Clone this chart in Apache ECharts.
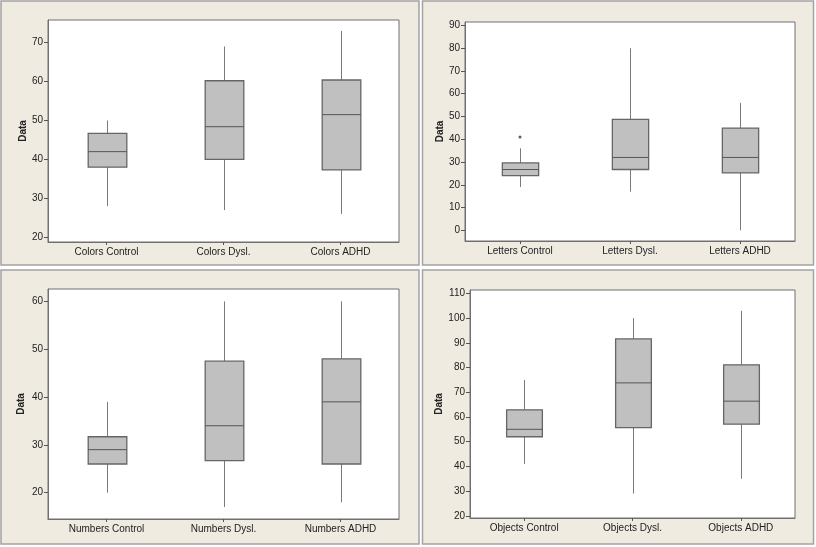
<!DOCTYPE html>
<html>
<head>
<meta charset="utf-8">
<script src="https://cdn.jsdelivr.net/npm/echarts@6/dist/echarts.min.js"></script>
<style>
html, body { margin: 0; padding: 0; background: #fff; }
#main { width: 816px; height: 547px; }
</style>
</head>
<body>
<div id="main"></div>
<script>
// box values per group: [low whisker, Q1, median, Q3, high whisker]
var colorsCats = ['Colors Control', 'Colors Dysl.', 'Colors ADHD'];
var colorsBox = [[28, 38, 42, 46.7, 50], [27, 40, 48.4, 60.2, 69], [26, 37.3, 51.5, 60.4, 73]];
var colorsTicks = [20, 30, 40, 50, 60, 70];

var lettersCats = ['Letters Control', 'Letters Dysl.', 'Letters ADHD'];
var lettersBox = [[19, 24, 26.7, 29.6, 36], [17, 26.7, 32, 48.7, 80], [0, 25.2, 32, 44.9, 56]];
var lettersOutliers = [[0, 41]];
var lettersTicks = [0, 10, 20, 30, 40, 50, 60, 70, 80, 90];

var numbersCats = ['Numbers Control', 'Numbers Dysl.', 'Numbers ADHD'];
var numbersBox = [[20, 26, 29, 31.7, 39], [17, 26.7, 34, 47.5, 60], [18, 26, 39, 48, 60]];
var numbersTicks = [20, 30, 40, 50, 60];

var objectsCats = ['Objects Control', 'Objects Dysl.', 'Objects ADHD'];
var objectsBox = [[41, 52, 55, 62.9, 75], [29, 55.7, 73.8, 91.6, 100], [35, 57.1, 66.4, 81.1, 103]];
var objectsTicks = [20, 30, 40, 50, 60, 70, 80, 90, 100, 110];

var textFont = 'Liberation Sans';
var textColor = '#222';

function renderBox(params, api) {
	var x = api.value(0);
	var lo = api.coord([x, api.value(1)]);
	var q1 = api.coord([x, api.value(2)]);
	var med = api.coord([x, api.value(3)]);
	var q3 = api.coord([x, api.value(4)]);
	var hi = api.coord([x, api.value(5)]);
	var half = api.size([1, 0])[0] * 0.33 / 2;
	var cx = Math.round(lo[0]) + 0.5;
	var wStyle = { stroke: '#7a7a7a', lineWidth: 1 };
	return {
		type: 'group',
		children: [
			{ type: 'line', shape: { x1: cx, y1: hi[1], x2: cx, y2: q3[1] }, style: wStyle },
			{ type: 'line', shape: { x1: cx, y1: q1[1], x2: cx, y2: lo[1] }, style: wStyle },
			{ type: 'rect', shape: { x: cx - half, y: q3[1], width: half * 2, height: q1[1] - q3[1] },
				style: { fill: '#c0c0c0', stroke: '#666', lineWidth: 1.3 } },
			{ type: 'line', shape: { x1: cx - half, y1: med[1], x2: cx + half, y2: med[1] },
				style: { stroke: '#555', lineWidth: 1 } }
		]
	};
}

function xAxisOf(idx, cats) {
	return {
		type: 'category',
		gridIndex: idx,
		data: cats,
		boundaryGap: true,
		axisLine: { show: true, onZero: false, lineStyle: { color: '#707070', width: 1 } },
		axisTick: { show: true, alignWithLabel: true, length: 3, lineStyle: { color: '#555' } },
		axisLabel: { show: true, interval: 0, margin: 5, color: textColor, fontFamily: textFont, fontSize: 10 },
		splitLine: { show: false }
	};
}

function yAxisOf(idx, min, max, ticks, gap) {
	return {
		type: 'value',
		gridIndex: idx,
		min: min,
		max: max,
		name: 'Data',
		nameLocation: 'middle',
		nameGap: gap,
		nameTextStyle: { color: textColor, fontFamily: textFont, fontSize: 10, fontWeight: 'bold' },
		axisLine: { show: true, lineStyle: { color: '#707070', width: 1 } },
		axisTick: { show: true, length: 4, customValues: ticks, lineStyle: { color: '#555' } },
		axisLabel: { show: true, margin: 5, customValues: ticks, color: textColor, fontFamily: textFont, fontSize: 10 },
		splitLine: { show: false }
	};
}

function boxSeries(idx, box) {
	return {
		type: 'custom',
		xAxisIndex: idx,
		yAxisIndex: idx,
		renderItem: renderBox,
		encode: { x: 0, y: [1, 2, 3, 4, 5] },
		data: box.map(function (b, i) { return [i].concat(b); }),
		z: 5
	};
}

function panel(x, y, w, h) {
	return {
		type: 'rect',
		z: -10,
		shape: { x: x, y: y, width: w, height: h },
		style: { fill: '#efebe1', stroke: '#a3a3a3', lineWidth: 1.5 }
	};
}

var chart = echarts.init(document.getElementById('main'));
var option = {
	animation: false,
	backgroundColor: '#fff',
	graphic: {
		elements: [
			panel(1, 1, 418, 264),
			panel(422.5, 1, 391, 264),
			panel(1, 270, 418, 274),
			panel(422.5, 270, 391, 274)
		]
	},
	grid: [
		{ left: 48, top: 20, width: 351, height: 222, show: true, backgroundColor: '#fff', borderColor: '#707070', borderWidth: 1 },
		{ left: 465, top: 22, width: 330, height: 219, show: true, backgroundColor: '#fff', borderColor: '#707070', borderWidth: 1 },
		{ left: 48, top: 289, width: 351, height: 230, show: true, backgroundColor: '#fff', borderColor: '#707070', borderWidth: 1 },
		{ left: 470, top: 290, width: 325, height: 228, show: true, backgroundColor: '#fff', borderColor: '#707070', borderWidth: 1 }
	],
	xAxis: [
		xAxisOf(0, colorsCats),
		xAxisOf(1, lettersCats),
		xAxisOf(2, numbersCats),
		xAxisOf(3, objectsCats)
	],
	yAxis: [
		yAxisOf(0, 18.8, 75.8, colorsTicks, 19),
		yAxisOf(1, -4.7, 91.5, lettersTicks, 19),
		yAxisOf(2, 14.5, 62.6, numbersTicks, 22),
		yAxisOf(3, 19.1, 111.4, objectsTicks, 24)
	],
	series: [
		boxSeries(0, colorsBox),
		boxSeries(1, lettersBox),
		boxSeries(2, numbersBox),
		boxSeries(3, objectsBox),
		{
			type: 'scatter',
			xAxisIndex: 1,
			yAxisIndex: 1,
			data: lettersOutliers,
			symbol: 'circle',
			symbolSize: 3,
			itemStyle: { color: '#333' },
			z: 6
		}
	]
};
chart.setOption(option);
</script>
</body>
</html>
